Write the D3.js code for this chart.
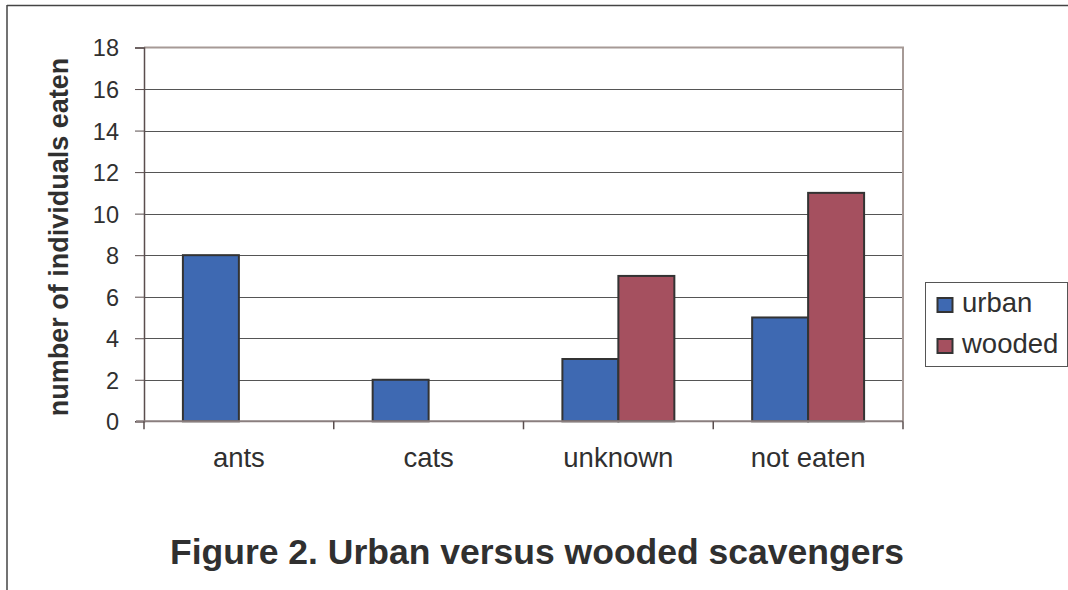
<!DOCTYPE html>
<html><head><meta charset="utf-8">
<script src="https://cdn.jsdelivr.net/npm/d3@7"></script>
<style>body{margin:0;background:#fff}svg{display:block}</style>
</head><body>
<script>
const categories = ["ants", "cats", "unknown", "not eaten"];
const seriesNames = ["urban", "wooded"];
const urban = [8, 2, 3, 5];
const wooded = [0, 0, 7, 11];
const yTicks = [0, 2, 4, 6, 8, 10, 12, 14, 16, 18];
const colors = ["#3E69B2", "#A5505F"];
const title = "Figure 2. Urban versus wooded scavengers";
const yLabel = "number of individuals eaten";

const W = 1068, H = 590;
const svg = d3.select("body").append("svg").attr("width", W).attr("height", H);
const font = "'Liberation Sans', Arial, sans-serif";
const txt = "#303030";

// outer frame (only top and left visible)
svg.append("line").attr("x1", 7).attr("x2", W).attr("y1", 5.5).attr("y2", 5.5).attr("stroke", "#444").attr("stroke-width", 1.5);
svg.append("line").attr("x1", 7).attr("x2", 7).attr("y1", 5).attr("y2", H).attr("stroke", "#444").attr("stroke-width", 1.5);

const pL = 144, pR = 903, pT = 47.5, pB = 421.3;
const y = d3.scaleLinear().domain([0, 18]).range([pB, pT]);
const x0 = d3.scaleBand().domain(categories).range([pL, pR]).padding(0);
const gap = x0.bandwidth() * 0.205;
const x1 = d3.scaleBand().domain(seriesNames).range([gap, x0.bandwidth() - gap]).padding(0);

// gridlines
svg.append("g").selectAll("line").data(yTicks.filter(t => t > 0 && t < 18)).join("line")
  .attr("x1", pL).attr("x2", pR)
  .attr("y1", d => Math.round(y(d)) + 0.5).attr("y2", d => Math.round(y(d)) + 0.5)
  .attr("stroke", "#555").attr("stroke-width", 1);

// plot border top & right
svg.append("path")
  .attr("d", `M${pL},${pT}H${pR}V${pB}`)
  .attr("fill", "none").attr("stroke", "#a69a96").attr("stroke-width", 2);

// bars
const data = categories.map((c, i) => ({ c, vals: [urban[i], wooded[i]] }));
const groups = svg.append("g").selectAll("g").data(data).join("g")
  .attr("transform", d => `translate(${x0(d.c)},0)`);
groups.selectAll("rect").data(d => d.vals.map((v, j) => ({ v, s: seriesNames[j], j })).filter(e => e.v > 0)).join("rect")
  .attr("x", e => x1(e.s)).attr("width", x1.bandwidth())
  .attr("y", e => y(e.v)).attr("height", e => y(0) - y(e.v))
  .attr("fill", e => colors[e.j]).attr("stroke", "#333").attr("stroke-width", 2);

// y axis
const yAxis = d3.axisLeft(y).tickValues(yTicks).tickSize(9).tickPadding(16);
const gy = svg.append("g").attr("transform", `translate(${pL},0)`).call(yAxis);
gy.select(".domain").attr("stroke", "#5a4e4e").attr("stroke-width", 1.5);
gy.selectAll(".tick line").attr("stroke", "#5a4e4e");
gy.selectAll(".tick text").attr("font-family", font).attr("font-size", 23.5).attr("fill", txt).attr("dy", "0.36em");

// x axis
const gx = svg.append("g").attr("transform", `translate(0,${pB})`);
gx.append("line").attr("x1", pL - 8).attr("x2", pR).attr("y1", 0).attr("y2", 0).attr("stroke", "#8a7e7e").attr("stroke-width", 2);
const bounds = categories.map(c => x0(c)).concat([pR]);
gx.selectAll(".bt").data(bounds).join("line").attr("class", "bt")
  .attr("x1", d => d).attr("x2", d => d).attr("y1", 0).attr("y2", 8).attr("stroke", "#5a4e4e").attr("stroke-width", 1.5);
gx.selectAll(".cl").data(categories).join("text").attr("class", "cl")
  .attr("x", d => x0(d) + x0.bandwidth() / 2).attr("y", 46)
  .attr("text-anchor", "middle").attr("font-family", font).attr("font-size", 27.5).attr("fill", txt)
  .text(d => d);

// y label
svg.append("text").attr("transform", "translate(68,237) rotate(-90)")
  .attr("text-anchor", "middle").attr("font-family", font).attr("font-weight", "bold")
  .attr("font-size", 27).attr("fill", txt).text(yLabel);

// legend
const lg = svg.append("g");
lg.append("rect").attr("x", 925.5).attr("y", 282.5).attr("width", 142).attr("height", 84)
  .attr("fill", "#fff").attr("stroke", "#555").attr("stroke-width", 1);
seriesNames.forEach((s, i) => {
  const yy = 298 + i * 41;
  lg.append("rect").attr("x", 937.5).attr("y", yy).attr("width", 15).attr("height", 14)
    .attr("fill", colors[i]).attr("stroke", "#333").attr("stroke-width", 2);
  lg.append("text").attr("x", 962).attr("y", yy + 14).attr("font-family", font)
    .attr("font-size", 27.5).attr("fill", txt).text(s);
});

// title
svg.append("text").attr("x", 537).attr("y", 564).attr("text-anchor", "middle")
  .attr("font-family", font).attr("font-weight", "bold").attr("font-size", 35.5).attr("fill", txt)
  .text(title);
</script>
</body></html>
